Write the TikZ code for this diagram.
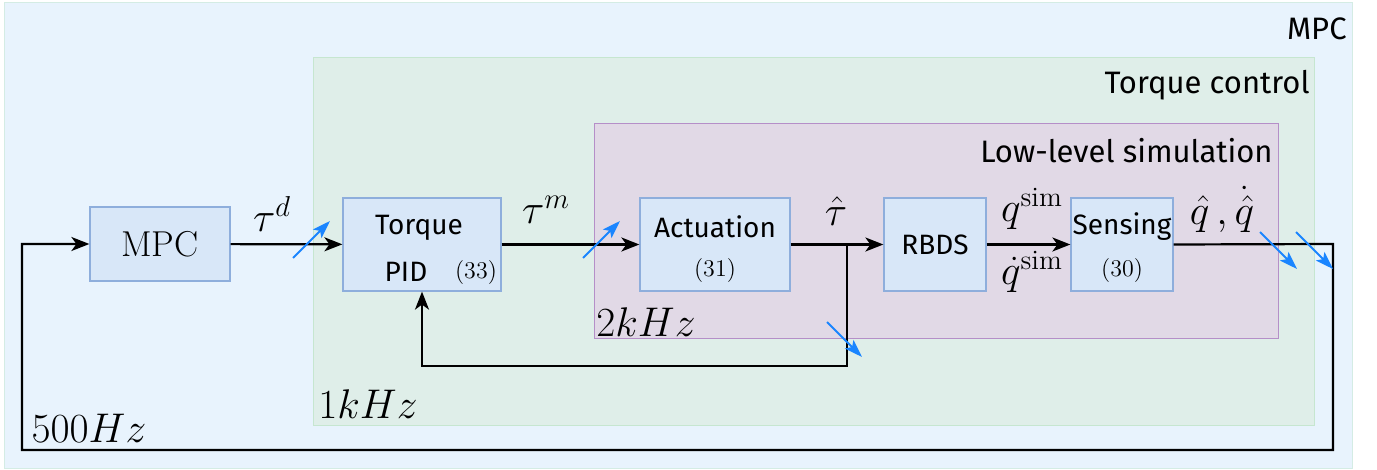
\documentclass[tikz,border=0pt]{standalone}
\usepackage{fontspec}
\setsansfont{Fira Sans}
\usetikzlibrary{arrows.meta,calc}
\definecolor{mpcfill}{HTML}{E8F3FD}
\definecolor{mpcline}{HTML}{D4ECE4}
\definecolor{tqfill}{HTML}{DFEEE9}
\definecolor{tqline}{HTML}{C6E6D0}
\definecolor{simfill}{HTML}{E1D9E6}
\definecolor{simline}{HTML}{B58FC8}
\definecolor{blkfill}{HTML}{D8E7F8}
\definecolor{blkline}{HTML}{8EAEDC}
\definecolor{zohblue}{HTML}{1A85FF}
\tikzset{
  block/.style={draw=blkline, fill=blkfill, line width=0.6pt, inner sep=0pt},
  boxtext/.style={font=\sffamily\fontsize{14}{16}\selectfont, inner sep=0pt},
  eqref/.style={font=\fontsize{12}{14}\selectfont, inner sep=0pt},
  grouptitle/.style={font=\sffamily\fontsize{15.5}{18}\selectfont, anchor=east, inner sep=0pt},
  siglabel/.style={font=\fontsize{20}{24}\selectfont, inner sep=0pt},
  sig/.style={line width=1.1pt, -{Stealth[length=9pt,width=7pt,inset=2.5pt]}},
  wire/.style={line width=1.1pt},
  zoh/.style={draw=zohblue, line width=1pt, -{Stealth[length=9pt,width=6pt,inset=2pt]}}
}
\begin{document}
\begin{tikzpicture}[x=0.5pt,y=-0.5pt]
  \useasboundingbox (0,0) rectangle (1377,470);
  % rate groups
  \draw[mpcline, fill=mpcfill] (4,2) rectangle (1352,468);
  \draw[tqline, fill=tqfill] (313,57) rectangle (1314,425);
  \draw[simline, fill=simfill] (594,123) rectangle (1278,338);
  \node[grouptitle] (ttlmpc) at (1347,29) {MPC};
  \node[grouptitle] (ttltq) at (1310,85) {Torque control};
  \node[grouptitle] (ttlsim) at (1273,151) {Low-level simulation};
  \node[siglabel] (hz2k) at (646,322) {$2kHz$};
  \node[siglabel] (hz1k) at (368,404) {$1kHz$};
  \node[siglabel] (hz500) at (89,428) {$500Hz$};
  % blocks
  \node[block, minimum width=70pt, minimum height=37pt] (mpc) at (160,244) {};
  \node[block, minimum width=79pt, minimum height=46.5pt] (pid) at (422,244.5) {};
  \node[block, minimum width=75pt, minimum height=46.5pt] (act) at (715,244.5) {};
  \node[block, minimum width=51pt, minimum height=46.5pt] (rbds) at (935,244.5) {};
  \node[block, minimum width=51pt, minimum height=46.5pt] (sens) at (1122,244.5) {};
  \node[font=\fontsize{18}{21}\selectfont, inner sep=0pt] (mpctxt) at (mpc.center) {MPC};
  \node[boxtext] (pidtop) at (419,228) {Torque};
  \node[boxtext] (pidbot) at (406,272) {PID};
  \node[eqref] (pidref) at (476,273) {(33)};
  \node[boxtext] (acttxt) at (715,227) {Actuation};
  \node[eqref] (actref) at (715,271) {(31)};
  \node[boxtext] (rbdstxt) at (rbds.center) {RBDS};
  \node[boxtext] (senstxt) at (1122,227) {Sensing};
  \node[eqref] (sensref) at (1122,271) {(30)};
  % signals
  \coordinate (branch) at (847,244);
  \coordinate (fbk) at (847,366);
  \coordinate (outr) at (1333,244);
  \coordinate (lowr) at (1333,450);
  \coordinate (lowl) at (22,450);
  \draw[sig] (mpc) -- (pid);
  \draw[sig] (pid) -- (act);
  \draw[sig] (act) -- (rbds);
  \draw[sig] (rbds) -- (sens);
  \draw[sig] (branch) -- (fbk) -| (pid.south);
  \draw[sig] (sens.east) -- (outr) -- (lowr) -- (lowl) |- (mpc.west);
  \node[siglabel] (taud) at (272,214) {$\tau^d$};
  \node[siglabel] (taum) at (546,210) {$\tau^m$};
  \node[siglabel] (tauhat) at (836,211) {$\hat\tau$};
  \node[siglabel] (qsim) at (1032,209) {$q^{\mathrm{sim}}$};
  \node[siglabel] (dqsim) at (1032,272) {$\dot q^{\mathrm{sim}}$};
  \node[siglabel] (qhat) at (1222,209) {$\hat q\,,\dot{\hat q}$};
  % rate transitions
  \foreach \xa/\ya/\xb/\yb in {293/258/330/221, 583/258/620/221, 827/322/862/357,
                               1260/232/1297/269, 1296/232/1333/269}{
    \draw[zoh] (\xa,\ya) -- (\xb,\yb);
  }
\end{tikzpicture}
\end{document}
